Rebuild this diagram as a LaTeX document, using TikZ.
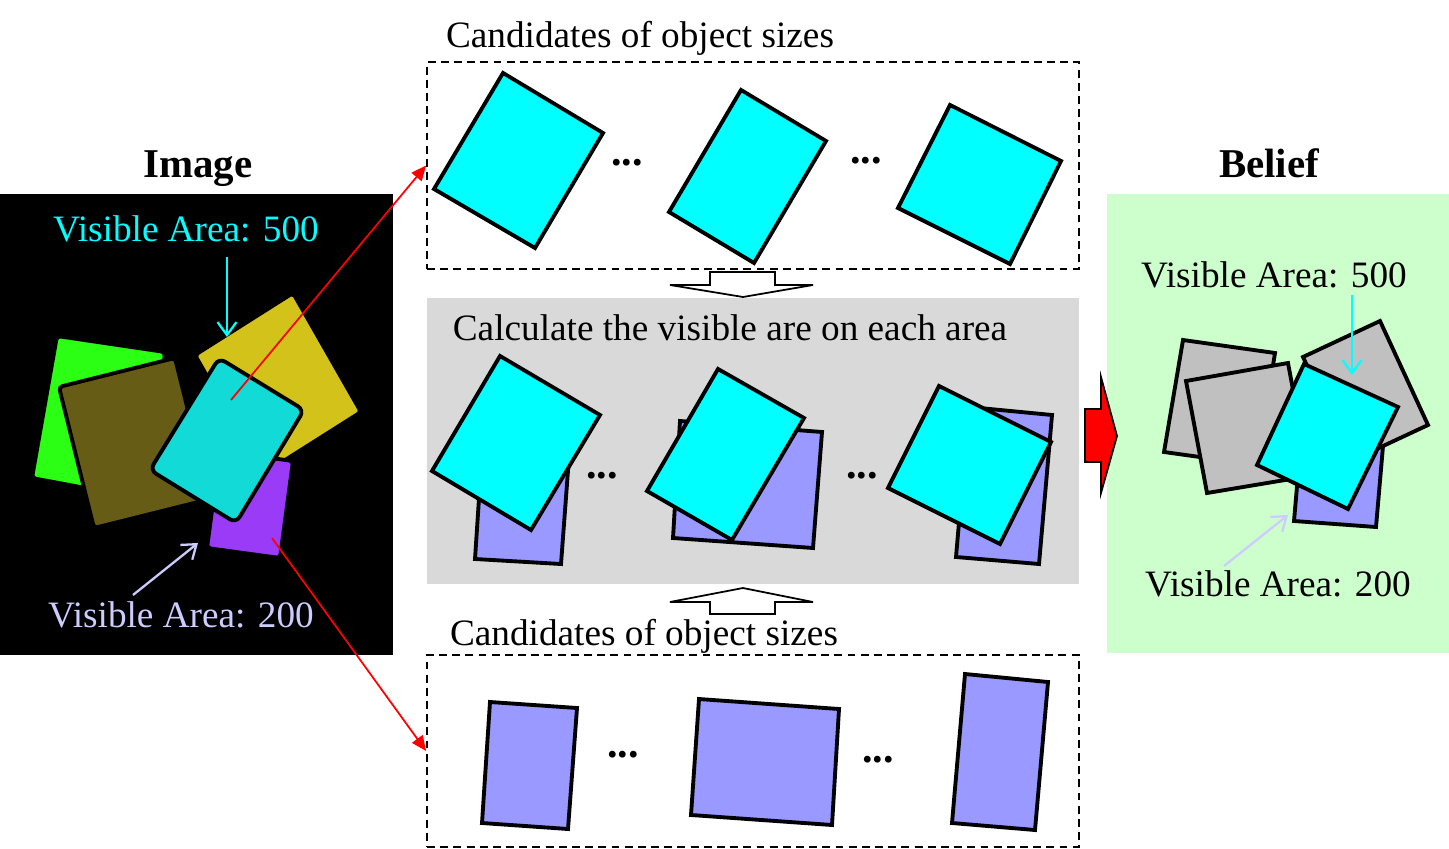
\documentclass[tikz,border=0pt]{standalone}
\usepackage{fontspec}
\setmainfont{Liberation Serif}
\usetikzlibrary{arrows.meta}
\definecolor{objcyan}{HTML}{00FFFF}
\definecolor{objblue}{HTML}{9999FF}
\definecolor{objgray}{HTML}{C0C0C0}
\definecolor{calcgray}{HTML}{D9D9D9}
\definecolor{beliefgreen}{HTML}{CCFFCC}
\definecolor{labelblue}{HTML}{CCCCFF}
\definecolor{seggreen}{HTML}{2BFF14}
\definecolor{segolive}{HTML}{665C15}
\definecolor{segyellow}{HTML}{D2C21A}
\definecolor{segcyan}{HTML}{12DAD6}
\definecolor{segpurple}{HTML}{9A3CF7}
\tikzset{
  cand/.style={draw=black,line width=2.2pt,line join=miter},
  cyanobj/.style={cand,fill=objcyan},
  blueobj/.style={cand,fill=objblue},
  grayobj/.style={cand,fill=objgray},
  seg/.style={draw=black,line width=2.2pt,rounded corners=2pt},
  panel/.style={inner sep=0pt,minimum width=#1},
  dashbox/.style={draw=black,dash pattern=on 4.5pt off 3pt,line width=1.1pt,inner sep=0pt,minimum width=13.04cm},
  txt/.style={font=\fontsize{21.2}{25}\selectfont,inner sep=0pt,anchor=base},
  title/.style={font=\fontsize{23.3}{28}\selectfont\bfseries,inner sep=0pt,anchor=base},
  dots/.style={font=\fontsize{24}{28}\selectfont\bfseries,inner sep=0pt},
  pick/.style={draw=red,line width=1pt,-{Triangle[length=3mm,width=2.6mm]}},
  point/.style={line width=1.3pt,-{Straight Barb[length=2.6mm,width=3.8mm]}},
  hollow/.style={draw=black,fill=white,line width=1pt},
}
\begin{document}
\begin{tikzpicture}[x=0.02cm,y=-0.02cm]
  \useasboundingbox (0,0) rectangle (1449,848);

  % panels
  \node[panel=7.86cm,fill=black,minimum height=9.22cm] (imgpanel) at (196.5,424.5) {};
  \node[panel=6.84cm,fill=beliefgreen,minimum height=9.18cm] (beliefpanel) at (1278,423.5) {};
  \node[panel=13.04cm,fill=calcgray,minimum height=5.72cm] (calcbox) at (753,441) {};
  \node[dashbox,minimum height=4.14cm] (topbox) at (753,165.5) {};
  \node[dashbox,minimum height=3.84cm] (botbox) at (753,751) {};

  % segmented image
  \draw[seg,fill=seggreen] (57,336) -- (165,352) -- (150,500) -- (32,478) -- cycle;
  \draw[seg,fill=segolive] (59,387) -- (175,358) -- (210,499) -- (94,528) -- cycle;
  \draw[seg,fill=segyellow] (195,355) -- (293,293) -- (361,412) -- (263,474) -- cycle;
  \draw[seg,fill=segpurple] (220,451) -- (293,461) -- (280,558) -- (207,548) -- cycle;
  \draw[seg,fill=segcyan,rounded corners=4pt] (219,358) -- (304,410) -- (236,523) -- (150,470) -- cycle;

  % candidates (top)
  \draw[cyanobj] (503,73) -- (603,133) -- (535,248) -- (434,189) -- cycle;
  \draw[cyanobj] (741,90) -- (826,141) -- (754,263) -- (669,212) -- cycle;
  \draw[cyanobj] (950,105) -- (1061,161) -- (1010,264) -- (898,208) -- cycle;
  \node[dots] (tdots1) at (627,163) {...};
  \node[dots] (tdots2) at (866,161) {...};

  % visible area
  \draw[blueobj] (483,438) -- (570,444) -- (561,564) -- (475,559) -- cycle;
  \draw[cyanobj] (500,356) -- (600,415) -- (531,530) -- (432,471) -- cycle;
  \draw[blueobj] (680,421) -- (822,432) -- (813,548) -- (673,538) -- cycle;
  \draw[cyanobj] (718,369) -- (804,418) -- (732,540) -- (647,491) -- cycle;
  \draw[blueobj] (969,407) -- (1052,415) -- (1039,564) -- (956,557) -- cycle;
  \draw[cyanobj] (939,386) -- (1051,442) -- (1000,544) -- (888,488) -- cycle;
  \node[dots] (mdots1) at (602,476) {...};
  \node[dots] (mdots2) at (862,476) {...};

  % candidates (bottom)
  \draw[blueobj] (490,702) -- (577,708) -- (568,829) -- (482,823) -- cycle;
  \draw[blueobj] (699,699) -- (839,709) -- (832,825) -- (691,815) -- cycle;
  \draw[blueobj] (965,674) -- (1048,682) -- (1035,830) -- (952,823) -- cycle;
  \node[dots] (bdots1) at (623,755) {...};
  \node[dots] (bdots2) at (878,760) {...};

  % belief
  \draw[grayobj] (1183,340) -- (1275,353) -- (1257,465) -- (1164,452) -- cycle;
  \draw[grayobj] (1186,381) -- (1288,363) -- (1309,476) -- (1207,493) -- cycle;
  \draw[blueobj] (1301,440) -- (1383,446) -- (1376,527) -- (1294,521) -- cycle;
  \draw[grayobj] (1303,357) -- (1380,321) -- (1428,425) -- (1351,461) -- cycle;
  \draw[cyanobj] (1304,364) -- (1398,407) -- (1348,509) -- (1257,465) -- cycle;

  % hollow arrows and red block arrow
  \draw[hollow] (710,272) -- (775,272) -- (775,285) -- (813,285) -- (743,297) -- (670,285) -- (710,285) -- cycle;
  \draw[hollow] (743,588) -- (813,602) -- (775,602) -- (775,614) -- (710,614) -- (710,602) -- (670,602) -- cycle;
  \draw[draw=black,fill=red,line width=1pt] (1085,409) -- (1101,409) -- (1101,377) -- (1117,436) -- (1101,493) -- (1101,462) -- (1085,462) -- cycle;

  % texts
  \node[title] (imgtitle) at (198,177) {Image};
  \node[title] (belieftitle) at (1269,177) {Belief};
  \node[txt,text=objcyan] (imgvis500) at (186,241) {Visible Area: 500};
  \node[txt,text=labelblue] (imgvis200) at (181,627) {Visible Area: 200};
  \node[txt] (toplabel) at (640,48) {Candidates of object sizes};
  \node[txt] (calclabel) at (730,340) {Calculate the visible are on each area};
  \node[txt] (botlabel) at (644,645) {Candidates of object sizes};
  \node[txt] (belvis500) at (1274,287) {Visible Area: 500};
  \node[txt] (belvis200) at (1278,596) {Visible Area: 200};

  % connectors
  \coordinate (cyanpick) at (231,400);
  \coordinate (purplepick) at (272,538);
  \draw[pick] (cyanpick) -- (topbox.west);
  \draw[pick] (purplepick) -- (botbox.west);

  \coordinate (imgc1) at (227,257);
  \coordinate (imgc2) at (227,337);
  \coordinate (imgp1) at (133,595);
  \coordinate (imgp2) at (198,543);
  \draw[point,draw=objcyan] (imgc1) -- (imgc2);
  \draw[point,draw=labelblue] (imgp1) -- (imgp2);

  \coordinate (belc1) at (1352,295);
  \coordinate (belc2) at (1352,375);
  \coordinate (belp1) at (1224,566);
  \coordinate (belp2) at (1288,515);
  \draw[point,draw=objcyan] (belc1) -- (belc2);
  \draw[point,draw=labelblue] (belp1) -- (belp2);
\end{tikzpicture}
\end{document}
